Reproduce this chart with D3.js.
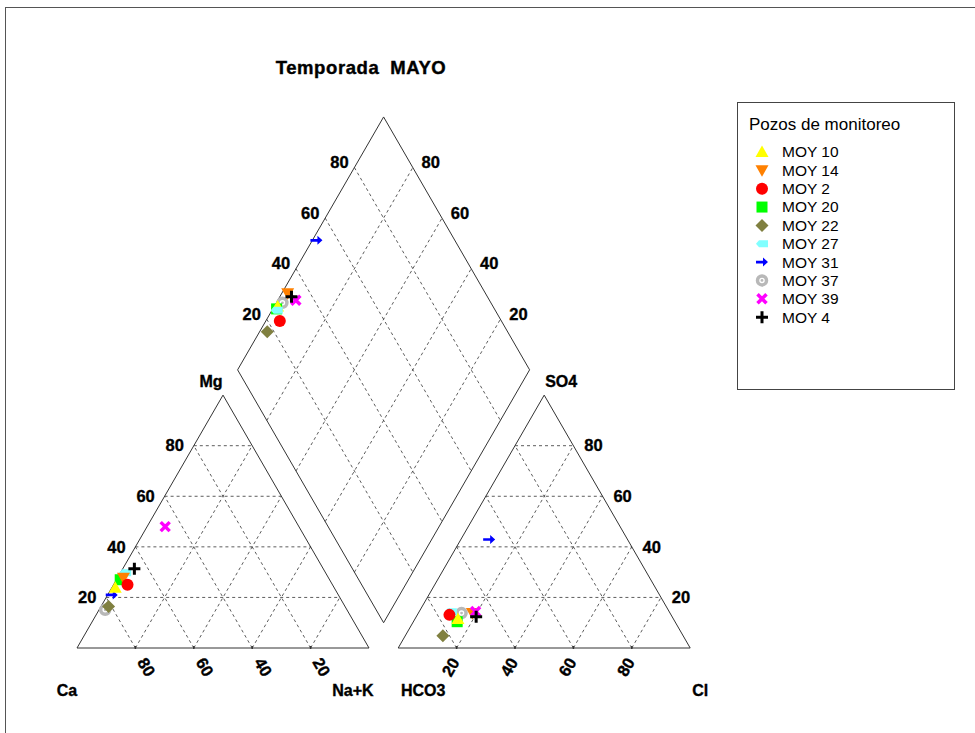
<!DOCTYPE html>
<html>
<head>
<meta charset="utf-8">
<script src="https://cdn.jsdelivr.net/npm/d3@7"></script>
<style>
  html, body { margin: 0; padding: 0; background: #fff; }
  svg { display: block; font-family: Arial, "Liberation Sans", sans-serif; }
</style>
</head>
<body>
<svg id="chart" width="975" height="733"></svg>
<script>
// Wells (monitoring points), in legend order
const wells = ["MOY 10", "MOY 14", "MOY 2", "MOY 20", "MOY 22", "MOY 27", "MOY 31", "MOY 37", "MOY 39", "MOY 4"];
// Cation percentages (meq %)
const caPct  = [75.0, 70.2, 70.2, 71.7, 81.0, 68.6, 77.6, 82.8, 45.8, 64.7];
const mgPct  = [23.8, 27.8, 25.0, 27.0, 16.4, 29.8, 21.0, 15.1, 48.0, 31.3];
const naKPct = [ 1.2,  2.0,  4.8,  1.3,  2.6,  1.6,  1.4,  2.1,  6.2,  4.0];
// Anion percentages (meq %)
const hco3Pct = [73.8, 67.7, 75.9, 74.6, 82.3, 74.8, 47.4, 71.4, 66.3, 67.1];
const so4Pct  = [11.5, 13.8, 13.1, 10.4,  4.8, 14.3, 42.9, 13.8, 14.4, 12.4];
const clPct   = [14.7, 18.5, 11.0, 15.0, 12.9, 10.9,  9.7, 14.8, 19.3, 20.5];
// Grid / tick values
const gridVals = [20, 40, 60, 80];
const tickLabels = ["20", "40", "60", "80"];
// Symbol styling per well
const wellColors = ["#ffff00", "#ff8000", "#ff0000", "#00ff00", "#808040", "#80ffff", "#0000ff", "#b8b8b8", "#ff00ff", "#000000"];
const wellShapes = ["triUp", "triDown", "circle", "square", "diamond", "tag", "arrow", "ring", "cross", "plus"];
// Drawing order of the points
const drawOrder = [7, 4, 6, 3, 0, 5, 1, 2, 8, 9];

const svg = d3.select("#chart");
const H = Math.sqrt(3) / 2;
const AX = 110;           // x offset of the anion triangle (gap of 10 units)

// Shared linear scales (same px per unit on both axes)
const k = 2.92;
const x = d3.scaleLinear().domain([0, 210]).range([77, 77 + 210 * k]);
const y = d3.scaleLinear().domain([0, 200]).range([648, 648 - 200 * k]);

// Positions in unit space
const catPt = (na, mg) => [na + mg / 2, mg * H];
const anPt = (cl, so4) => [AX + cl + so4 / 2, so4 * H];
const diaPt = (na, c) => [55 + (na + c) / 2, H * (AX + c - na)];
const P = p => [x(p[0]), y(p[1])];

// Frame around the figure
svg.append("rect").attr("x", 5.5).attr("y", 7.5).attr("width", 1000).attr("height", 800)
  .attr("fill", "none").attr("stroke", "#555").attr("stroke-width", 1);

const line = d3.line();
const gGrid = svg.append("g").attr("stroke", "#333").attr("stroke-width", 0.8)
  .attr("stroke-dasharray", "3,3").attr("fill", "none");
function gridSeg(a, b) { gGrid.append("path").attr("d", line([P(a), P(b)])); }

gridVals.forEach(v => {
  // cation triangle
  gridSeg([v / 2, v * H], [100 - v / 2, v * H]);
  gridSeg([v, 0], [v + (100 - v) / 2, (100 - v) * H]);
  gridSeg([100 - v, 0], [(100 - v) / 2, (100 - v) * H]);
  // anion triangle
  gridSeg([AX + v / 2, v * H], [AX + 100 - v / 2, v * H]);
  gridSeg([AX + v, 0], [AX + v + (100 - v) / 2, (100 - v) * H]);
  gridSeg([AX + 100 - v, 0], [AX + (100 - v) / 2, (100 - v) * H]);
  // diamond
  gridSeg(diaPt(v, 0), diaPt(v, 100));
  gridSeg(diaPt(0, v), diaPt(100, v));
});

// Outlines
const gOut = svg.append("g").attr("stroke", "#333").attr("stroke-width", 1).attr("fill", "none");
gOut.append("path").attr("d", line([[0, 0], [100, 0], [50, 100 * H]].map(P)) + "Z");
gOut.append("path").attr("d", line([[AX, 0], [AX + 100, 0], [AX + 50, 100 * H]].map(P)) + "Z");
gOut.append("path").attr("d", line([diaPt(100, 0), diaPt(100, 100), diaPt(0, 100), diaPt(0, 0)].map(P)) + "Z");

// Small ticks along the bases
const gTick = svg.append("g").attr("stroke", "#333").attr("stroke-width", 1.5);
gridVals.forEach(v => {
  [v, AX + v].forEach(u => {
    gTick.append("line").attr("x1", x(u)).attr("x2", x(u)).attr("y1", y(0) - 2).attr("y2", y(0) + 1);
  });
});

// Tick labels
const gLab = svg.append("g").attr("font-weight", "bold").attr("font-size", 16.5)
  .attr("fill", "#000").attr("stroke", "#000").attr("stroke-width", 0.35);
gridVals.forEach((v, i) => {
  // Mg, left of the cation triangle
  let p = P(catPt(0, v));
  gLab.append("text").attr("x", p[0] - 19).attr("y", p[1]).attr("dy", "0.35em")
    .attr("text-anchor", "middle").text(tickLabels[i]);
  // SO4, right of the anion triangle
  p = P(anPt(100 - v, v));
  gLab.append("text").attr("x", p[0] + 20).attr("y", p[1]).attr("dy", "0.35em")
    .attr("text-anchor", "middle").text(tickLabels[i]);
  // Ca, below the cation base (rotated)
  p = P([100 - v, 0]);
  gLab.append("text").attr("transform", `translate(${p[0] + 11},${p[1] + 19}) rotate(60)`)
    .attr("dy", "0.35em").attr("text-anchor", "middle").text(tickLabels[i]);
  // Cl, below the anion base (rotated)
  p = P([AX + v, 0]);
  gLab.append("text").attr("transform", `translate(${p[0] - 6},${p[1] + 19}) rotate(-60)`)
    .attr("dy", "0.35em").attr("text-anchor", "middle").text(tickLabels[i]);
  // SO4+Cl, left of the diamond
  p = P(diaPt(0, v));
  gLab.append("text").attr("x", p[0] - 15).attr("y", p[1] - 5).attr("dy", "0.35em")
    .attr("text-anchor", "middle").text(tickLabels[i]);
  // Ca+Mg, right of the diamond
  p = P(diaPt(100 - v, 100));
  gLab.append("text").attr("x", p[0] + 18).attr("y", p[1] - 5).attr("dy", "0.35em")
    .attr("text-anchor", "middle").text(tickLabels[i]);
});

// Corner labels
const corner = [
  ["Mg", P([50, 100 * H]), -12, -14],
  ["Ca", P([0, 0]), -10, 42],
  ["Na+K", P([100, 0]), -16, 42],
  ["HCO3", P([AX, 0]), 25, 42],
  ["Cl", P([AX + 100, 0]), 10, 42],
  ["SO4", P([AX + 50, 100 * H]), 17, -14]
];
const gCorner = svg.append("g").attr("font-weight", "bold").attr("font-size", 16)
  .attr("stroke", "#000").attr("stroke-width", 0.35);
corner.forEach(c => {
  gCorner.append("text").attr("x", c[1][0] + c[2]).attr("y", c[1][1] + c[3])
    .attr("dy", "0.35em").attr("text-anchor", "middle").text(c[0]);
});

// Title
svg.append("text").attr("x", 361).attr("y", 68).attr("dy", "0.35em").attr("text-anchor", "middle")
  .attr("font-weight", "bold").attr("font-size", 18.5).attr("letter-spacing", 0.6)
  .attr("word-spacing", 5).attr("stroke", "#000").attr("stroke-width", 0.4)
  .text("Temporada MAYO");

// Marker drawing
function marker(g, shape, color, cx, cy) {
  const t = `translate(${cx},${cy})`;
  switch (shape) {
    case "triUp":
      g.append("path").attr("transform", t).attr("d", "M0,-6.5L6.5,5L-6.5,5Z").attr("fill", color); break;
    case "triDown":
      g.append("path").attr("transform", t).attr("d", "M0,6.5L6.5,-5L-6.5,-5Z").attr("fill", color); break;
    case "circle":
      g.append("circle").attr("cx", cx).attr("cy", cy).attr("r", 6).attr("fill", color); break;
    case "square":
      g.append("rect").attr("x", cx - 5.5).attr("y", cy - 5.5).attr("width", 11).attr("height", 11).attr("fill", color); break;
    case "diamond":
      g.append("path").attr("transform", t).attr("d", "M0,-6.5L6.5,0L0,6.5L-6.5,0Z").attr("fill", color); break;
    case "tag":
      g.append("path").attr("transform", t).attr("d", "M-6,0L-3,-3.5L6,-3.5L6,3.5L-3,3.5Z").attr("fill", color); break;
    case "arrow":
      g.append("path").attr("transform", t).attr("d", "M-6,-1.3L1,-1.3L1,-4.5L6,0L1,4.5L1,1.3L-6,1.3Z").attr("fill", color); break;
    case "ring":
      g.append("circle").attr("cx", cx).attr("cy", cy).attr("r", 4.5).attr("fill", "#fff")
        .attr("stroke", color).attr("stroke-width", 3.5);
      g.append("circle").attr("cx", cx).attr("cy", cy).attr("r", 1.4).attr("fill", color); break;
    case "cross":
      g.append("path").attr("transform", t).attr("d", "M-4.5,-4.5L4.5,4.5M-4.5,4.5L4.5,-4.5")
        .attr("stroke", color).attr("stroke-width", 3.5).attr("fill", "none"); break;
    case "plus":
      g.append("path").attr("transform", t).attr("d", "M-6,0L6,0M0,-6L0,6")
        .attr("stroke", color).attr("stroke-width", 3).attr("fill", "none"); break;
  }
}

// Points in the three fields
const gPts = svg.append("g");
drawOrder.forEach(i => {
  const pts = [
    P(catPt(naKPct[i], mgPct[i])),
    P(anPt(clPct[i], so4Pct[i])),
    P(diaPt(naKPct[i], clPct[i] + so4Pct[i]))
  ];
  pts.forEach(p => marker(gPts, wellShapes[i], wellColors[i], p[0], p[1]));
});

// Legend
const lg = svg.append("g");
lg.append("rect").attr("x", 737.5).attr("y", 102.5).attr("width", 217).attr("height", 287)
  .attr("fill", "#fff").attr("stroke", "#444").attr("stroke-width", 1);
lg.append("text").attr("x", 749).attr("y", 130).attr("font-size", 17).text("Pozos de monitoreo");
wells.forEach((w, i) => {
  const cy = 152 + i * 18.35;
  marker(lg, wellShapes[i], wellColors[i], 762, cy);
  lg.append("text").attr("x", 782).attr("y", cy).attr("dy", "0.35em").attr("font-size", 15.5).text(w);
});
</script>
</body>
</html>
